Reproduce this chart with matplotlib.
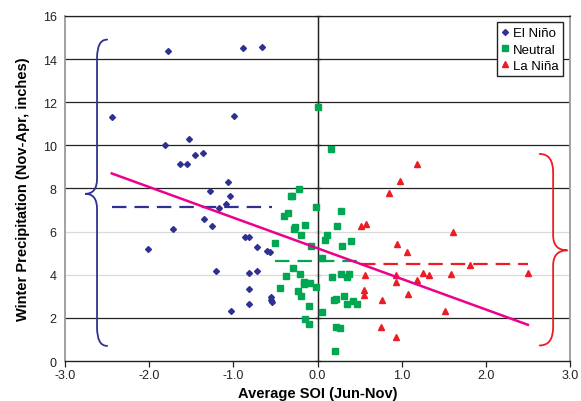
import numpy as np
import matplotlib
matplotlib.use("Agg")
import matplotlib.pyplot as plt
from matplotlib.path import Path
from matplotlib.patches import PathPatch

plt.rcParams["font.family"] = ["Liberation Sans", "DejaVu Sans"]

# ---------------- data ----------------
nino_x = [-2.445, -1.78, -0.887, -0.66, -0.99, -1.81, -1.53, -1.46, -1.36, -1.64, -1.55,
          -1.06, -1.28, -1.04, -1.09, -1.17, -1.35, -1.25, -1.72, -2.02, -0.86, -0.81,
          -0.72, -0.60, -0.57, -1.21, -0.82, -0.72, -0.81, -0.55, -0.55, -0.54, -0.81, -1.03]
nino_y = [11.29, 14.35, 14.49, 14.56, 11.36, 10.02, 10.30, 9.57, 9.66, 9.12, 9.12,
          8.30, 7.88, 7.64, 7.30, 7.11, 6.59, 6.25, 6.12, 5.19, 5.75, 5.75,
          5.30, 5.10, 5.07, 4.17, 4.07, 4.17, 3.33, 2.95, 2.83, 2.72, 2.66, 2.30]

neut_x = [0.006, 0.157, -0.224, -0.31, -0.30, -0.013, 0.276, -0.40, -0.35, -0.27, -0.275,
          -0.15, -0.20, 0.232, 0.11, 0.09, -0.50, -0.08, 0.29, 0.40, 0.058, -0.29,
          -0.375, -0.21, 0.17, 0.276, 0.356, 0.38, -0.16, -0.16, -0.09, -0.44, -0.013,
          -0.23, -0.20, 0.196, 0.225, 0.31, 0.35, 0.42, 0.47, -0.10, 0.054, -0.15,
          -0.10, 0.217, 0.264, 0.21]
neut_y = [11.77, 9.82, 7.96, 7.64, 7.64, 7.16, 6.96, 6.72, 6.85, 6.21, 6.11,
          6.29, 5.84, 6.28, 5.83, 5.63, 5.47, 5.33, 5.32, 5.55, 4.79, 4.30,
          3.94, 4.02, 3.88, 4.05, 3.91, 4.02, 3.68, 3.56, 3.62, 3.37, 3.43,
          3.25, 3.00, 2.84, 2.89, 3.00, 2.64, 2.77, 2.64, 2.55, 2.27, 1.95,
          1.70, 1.59, 1.53, 0.45]

nina_x = [1.177, 0.98, 0.855, 0.52, 0.58, 1.61, 0.94, 1.06, 1.815, 0.56, 0.93, 1.25,
          1.33, 1.59, 2.50, 0.93, 1.18, 0.55, 0.55, 1.07, 0.77, 1.51, 0.76, 0.93]
nina_y = [9.14, 8.33, 7.81, 6.26, 6.37, 6.00, 5.44, 5.06, 4.45, 4.00, 3.97, 4.07,
          3.99, 4.04, 4.08, 3.65, 3.74, 3.31, 3.08, 3.09, 2.83, 2.32, 1.58, 1.13]

series_labels = ["El Ni\u00f1o", "Neutral", "La Ni\u00f1a"]
x_ticks = [-3.0, -2.0, -1.0, 0.0, 1.0, 2.0, 3.0]
y_ticks = [0, 2, 4, 6, 8, 10, 12, 14, 16]

# brace annotations: (x_end, x_vertical, x_tip, y_top, y_mid, y_bottom)
brace_nino = (-2.50, -2.62, -2.76, 14.9, 7.75, 0.70)
brace_nina = (2.64, 2.80, 2.97, 9.6, 5.13, 0.72)

# ---------------- style ----------------
BLUE = "#2E3192"
GREEN = "#00A651"
RED = "#ED1C24"
MAGENTA = "#EC008C"

fig = plt.figure(figsize=(5.81, 4.02), dpi=100)
ax = fig.add_axes([0.112, 0.0995, 0.869, 0.8585])
ax.set_xlim(-3, 3)
ax.set_ylim(0, 16)

# gridlines
for yv in y_ticks[1:]:
    col = "#d9d9d9" if yv in (4, 6) else "#222222"
    ax.axhline(yv, color=col, lw=0.9, zorder=1)
ax.axvline(0, color="#222222", lw=1.0, zorder=1)

# scatter
ax.plot(nino_x, nino_y, linestyle="none", marker="D", ms=3.0, color=BLUE,
        label=series_labels[0], zorder=3)
ax.plot(neut_x, neut_y, linestyle="none", marker="s", ms=3.9, color=GREEN,
        label=series_labels[1], zorder=3)
ax.plot(nina_x, nina_y, linestyle="none", marker="^", ms=4.4, color=RED,
        label=series_labels[2], zorder=3)

# group means (dashed)
dash = (0, (6.5, 3.6))
for xs, ys, c in ((nino_x, nino_y, BLUE), (neut_x, neut_y, GREEN), (nina_x, nina_y, RED)):
    m = np.mean(ys)
    ax.plot([min(xs), max(xs)], [m, m], color=c, lw=1.6, linestyle=dash, zorder=4)

# linear trend over all data
all_x = np.array(nino_x + neut_x + nina_x)
all_y = np.array(nino_y + neut_y + nina_y)
k, b = np.polyfit(all_x, all_y, 1)
xx = np.array([all_x.min(), all_x.max()])
ax.plot(xx, k * xx + b, color=MAGENTA, lw=1.8, zorder=5)

# braces
def brace(params, color, hc=0.85, hm=0.7):
    x_end, x_v, x_tip, y_top, y_mid, y_bot = params
    verts = [(x_end, y_top), (x_v, y_top), (x_v, y_top - hc),
             (x_v, y_mid + hm),
             (x_v, y_mid), (x_tip, y_mid),
             (x_v, y_mid), (x_v, y_mid - hm),
             (x_v, y_bot + hc),
             (x_v, y_bot), (x_end, y_bot)]
    codes = [Path.MOVETO, Path.CURVE3, Path.CURVE3,
             Path.LINETO,
             Path.CURVE3, Path.CURVE3,
             Path.CURVE3, Path.CURVE3,
             Path.LINETO,
             Path.CURVE3, Path.CURVE3]
    ax.add_patch(PathPatch(Path(verts, codes), fill=False, edgecolor=color,
                           lw=1.3, zorder=4, capstyle="round"))

brace(brace_nino, BLUE)
brace(brace_nina, RED)

# spines
for s in ("left", "right"):
    ax.spines[s].set_color("#9a9a9a")
    ax.spines[s].set_linewidth(1.3)
ax.spines["top"].set_color("#222222")
ax.spines["top"].set_linewidth(0.9)
ax.spines["bottom"].set_color("#222222")
ax.spines["bottom"].set_linewidth(1.0)

ax.set_xticks(x_ticks)
ax.set_xticklabels([f"{v:.1f}" for v in x_ticks], fontsize=9, color="#222222")
ax.set_yticks(y_ticks)
ax.set_yticklabels([str(v) for v in y_ticks], fontsize=9, color="#222222")
ax.tick_params(axis="x", direction="out", length=4, width=0.9, color="#222222", pad=2)
ax.tick_params(axis="y", length=0, pad=6)

# y-axis tick marks on the x=0 line
sec = ax.secondary_yaxis(0.5)
sec.set_yticks(y_ticks)
sec.set_yticklabels([])
sec.tick_params(direction="inout", length=5, width=0.9, color="#222222")
sec.spines["left"].set_visible(False)

ax.set_xlabel("Average SOI (Jun-Nov)", fontsize=10.5, fontweight="bold", labelpad=3)
ax.set_ylabel("Winter Precipitation (Nov-Apr, inches)", fontsize=10.5,
              fontweight="bold", labelpad=9)

leg = ax.legend(loc="upper right", fontsize=9.5, frameon=True, fancybox=False,
                edgecolor="#222222", framealpha=1, handlelength=0.6,
                handletextpad=0.3, borderpad=0.35, labelspacing=0.3,
                borderaxespad=0.5)
leg.get_frame().set_linewidth(1.0)

fig.savefig("out.png", dpi=100)
